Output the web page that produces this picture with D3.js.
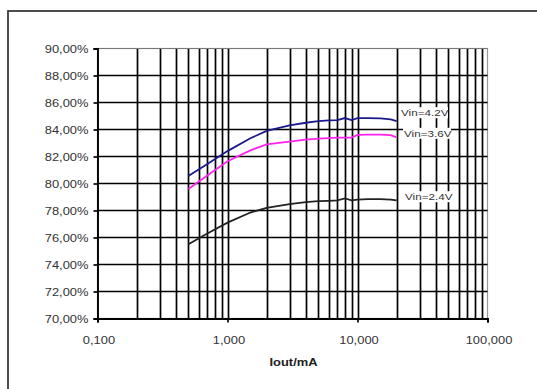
<!DOCTYPE html>
<html>
<head>
<meta charset="utf-8">
<script src="https://cdn.jsdelivr.net/npm/d3@7"></script>
<style>
  html, body { margin: 0; padding: 0; background: #fff; }
  svg { display: block; }
  text { font-family: "Liberation Sans", Arial, sans-serif; fill: #333; }
</style>
</head>
<body>
<svg id="chart" width="537" height="389"></svg>
<script>
// Output current (mA) at which efficiency was measured
const currents = [0.5, 0.7, 1, 1.5, 2, 3, 4, 5, 6, 7, 8, 9, 10, 12, 15, 18, 20];

// Efficiency (%) per input voltage
const eff42 = [80.55, 81.45, 82.4, 83.35, 83.9, 84.3, 84.5, 84.62, 84.68, 84.7, 84.85, 84.7, 84.85, 84.85, 84.82, 84.75, 84.62];
const eff36 = [79.6, 80.6, 81.65, 82.45, 82.9, 83.1, 83.25, 83.32, 83.36, 83.4, 83.4, 83.4, 83.6, 83.62, 83.62, 83.58, 83.42];
const eff24 = [75.5, 76.3, 77.1, 77.85, 78.2, 78.48, 78.62, 78.7, 78.72, 78.75, 78.9, 78.75, 78.8, 78.85, 78.85, 78.8, 78.75];

const seriesNames = ["Vin=4.2V", "Vin=3.6V", "Vin=2.4V"];
const seriesColors = ["#1a1a8c", "#ff22ee", "#222222"];

const yTicks = [70, 72, 74, 76, 78, 80, 82, 84, 86, 88, 90];
const xTicks = [0.1, 1, 10, 100];
const xTickLabels = ["0,100", "1,000", "10,000", "100,000"];
const xTitle = "Iout/mA";

const svg = d3.select("#chart");
const pL = 97.5, pR = 487.5, pT = 48.5, pB = 318.5;
const stretch = 1.23; // wide glyphs

const x = d3.scaleLog().domain([0.1, 100]).range([pL, pR]);
const y = d3.scaleLinear().domain([70, 90]).range([pB, pT]);

// outer frame
svg.append("rect")
  .attr("x", 8).attr("y", 11).attr("width", 560).attr("height", 400)
  .attr("fill", "none").attr("stroke", "#3a3a3a").attr("stroke-width", 1.8);

// plot area border (top and right in gray)
svg.append("rect")
  .attr("x", pL).attr("y", pT).attr("width", pR - pL).attr("height", pB - pT)
  .attr("fill", "none").attr("stroke", "#999").attr("stroke-width", 1.2);

// minor + major vertical grid lines
const vGrid = [];
for (let d = 0.1; d < 100; d *= 10) {
  for (let k = 1; k <= 9; k++) vGrid.push(+(d * k).toPrecision(3));
}
svg.append("g").selectAll("line").data(vGrid.filter(v => v > 0.1 && v < 100)).join("line")
  .attr("x1", d => Math.round(x(d)) + 0.5).attr("x2", d => Math.round(x(d)) + 0.5)
  .attr("y1", pT).attr("y2", pB)
  .attr("stroke", "#000").attr("stroke-width", 1.7);

// horizontal grid lines
svg.append("g").selectAll("line").data(yTicks.filter(v => v > 70 && v < 90)).join("line")
  .attr("x1", pL).attr("x2", pR)
  .attr("y1", d => y(d)).attr("y2", d => y(d))
  .attr("stroke", "#000").attr("stroke-width", 1.7);

// top gridline at 90%
svg.append("line").attr("x1", pL).attr("x2", pR).attr("y1", y(90)).attr("y2", y(90))
  .attr("stroke", "#777").attr("stroke-width", 1.2);

// y axis
const yAxis = svg.append("g").attr("transform", `translate(${pL},0)`)
  .call(d3.axisLeft(y).tickValues(yTicks).tickSize(4).tickPadding(0).tickFormat(() => ""));
yAxis.select(".domain").attr("stroke", "#000").attr("stroke-width", 1.9);
yAxis.selectAll(".tick line").attr("stroke", "#000").attr("stroke-width", 1.7);

// x axis
const xAxis = svg.append("g").attr("transform", `translate(0,${pB})`)
  .call(d3.axisBottom(x).tickValues(xTicks).tickSize(4).tickFormat(() => ""));
xAxis.select(".domain").attr("stroke", "#000").attr("stroke-width", 1.9);
xAxis.selectAll(".tick line").attr("stroke", "#000").attr("stroke-width", 1.7);

// text with horizontally widened glyphs
function stretchedText(g, tx, ty, str, anchor, size, weight) {
  return g.append("text")
    .attr("transform", `translate(${tx},${ty}) scale(${stretch},1)`)
    .attr("text-anchor", anchor).attr("dominant-baseline", "central")
    .attr("font-size", size).attr("font-weight", weight || "normal")
    .text(str);
}
yTicks.forEach(v => {
  stretchedText(svg, 88.5, y(v), v.toFixed(2).replace(".", ",") + "%", "end", 10.5);
});
xTicks.forEach((v, i) => {
  stretchedText(svg, x(v) + 1.5, 339.5, xTickLabels[i], "middle", 10.5);
});
stretchedText(svg, (pL + pR) / 2 + 1, 361.5, xTitle, "middle", 10.5, "bold")
  .style("fill", "#222");

// efficiency curves
const series = [eff42, eff36, eff24];
const line = d3.line().x((d, i) => x(currents[i])).y(d => y(d));
series.forEach((vals, s) => {
  svg.append("path").datum(vals)
    .attr("d", line)
    .attr("fill", "none").attr("stroke", seriesColors[s]).attr("stroke-width", 1.8);
});

// series labels on white boxes
const labelX = [401, 404, 405];
const labelY = [112.7, 133.3, 196.7];
seriesNames.forEach((name, s) => {
  const w = 48, h = 11;
  svg.append("rect")
    .attr("x", labelX[s] - 1).attr("y", labelY[s] - h / 2)
    .attr("width", w).attr("height", h).attr("fill", "#fff");
  stretchedText(svg, labelX[s], labelY[s], name, "start", 9.5);
});
</script>
</body>
</html>
